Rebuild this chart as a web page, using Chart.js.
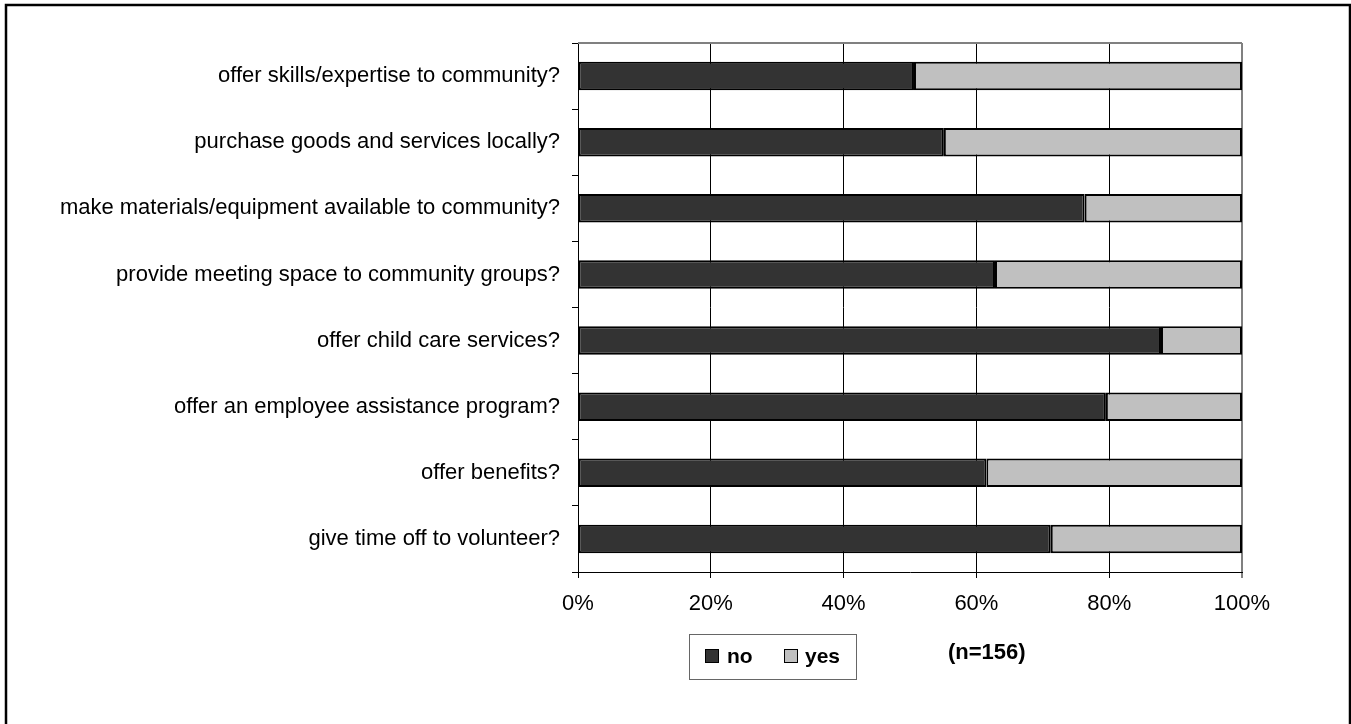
<!doctype html>
<html>
<head>
<title>Community support practices</title>
	<script src="https://cdn.jsdelivr.net/npm/chart.js@4/dist/chart.umd.min.js"></script>
	<style>
		body { margin: 0; background: #fff; }
		#wrap { width: 1351px; height: 724px; }
	</style>
</head>
<body>
	<div id="wrap">
		<canvas id="canvas"></canvas>
	</div>
	<script>
		var categories = [
			'offer skills/expertise to community?',
			'purchase goods and services locally?',
			'make materials/equipment available to community?',
			'provide meeting space to community groups?',
			'offer child care services?',
			'offer an employee assistance program?',
			'offer benefits?',
			'give time off to volunteer?'
		];
		var noValues = [50.6, 55.1, 76.3, 62.8, 87.8, 79.5, 61.5, 71.2];
		var yesValues = [49.4, 44.9, 23.7, 37.2, 12.2, 20.5, 38.5, 28.8];
		var sampleNote = '(n=156)';

		var FONT = "'Liberation Sans', Arial, sans-serif";

		// white page, outer frame, top/right plot border, legend box and note
		var decor = {
			id: 'decor',
			beforeDraw: function(chart) {
				var ctx = chart.ctx;
				ctx.save();
				ctx.fillStyle = '#fff';
				ctx.fillRect(0, 0, chart.width, chart.height);
				ctx.restore();
			},
			beforeDatasetsDraw: function(chart) {
				var ctx = chart.ctx, a = chart.chartArea;
				ctx.save();
				ctx.strokeStyle = '#808080';
				ctx.lineWidth = 2;
				ctx.beginPath();
				ctx.moveTo(a.left, a.top);
				ctx.lineTo(a.right, a.top);
				ctx.stroke();
				ctx.restore();
			},
			afterDraw: function(chart) {
				var ctx = chart.ctx;
				ctx.save();
				ctx.strokeStyle = '#000';
				ctx.lineWidth = 2.5;
				ctx.strokeRect(6, 5, 1344, 740);

				// legend box
				ctx.strokeStyle = '#666';
				ctx.lineWidth = 1;
				ctx.strokeRect(689.5, 634.5, 167, 45);
				var ds = chart.data.datasets;
				var items = [{ sq: 705, tx: 727 }, { sq: 784, tx: 805 }];
				ctx.font = 'bold 21px ' + FONT;
				ctx.textBaseline = 'middle';
				ctx.textAlign = 'left';
				items.forEach(function(it, i) {
					ctx.fillStyle = ds[i].backgroundColor;
					ctx.fillRect(it.sq, 649, 14, 14);
					ctx.strokeStyle = '#000';
					ctx.strokeRect(it.sq + 0.5, 649.5, 13, 13);
					ctx.fillStyle = '#000';
					ctx.fillText(ds[i].label, it.tx, 657);
				});
				ctx.font = 'bold 22px ' + FONT;
				ctx.fillText(sampleNote, 948, 653);
				ctx.restore();
			}
		};

		var config = {
			type: 'bar',
			data: {
				labels: categories,
				datasets: [{
					label: 'no',
					data: noValues,
					backgroundColor: '#333333',
					borderColor: '#000',
					borderWidth: 2,
					borderSkipped: false,
					barPercentage: 0.43,
					categoryPercentage: 1
				}, {
					label: 'yes',
					data: yesValues,
					backgroundColor: '#c0c0c0',
					borderColor: '#000',
					borderWidth: 2,
					borderSkipped: false,
					barPercentage: 0.43,
					categoryPercentage: 1
				}]
			},
			options: {
				indexAxis: 'y',
				responsive: true,
				maintainAspectRatio: false,
				animation: false,
				layout: {
					padding: { left: 0, top: 43, right: 109, bottom: 0 }
				},
				plugins: {
					legend: { display: false },
					tooltip: { enabled: false }
				},
				scales: {
					x: {
						stacked: true,
						min: 0,
						max: 100,
						ticks: {
							stepSize: 20,
							padding: 13,
							color: '#000',
							font: { family: FONT, size: 22 },
							callback: function(v) { return v + '%'; }
						},
						grid: {
							tickLength: 6,
							color: function(c) {
								return c.tick && c.tick.value === 100 ? '#808080' : '#000';
							},
							lineWidth: function(c) {
								return c.tick && c.tick.value === 100 ? 2 : 1;
							}
						},
						border: { display: true, color: '#000', width: 1 },
						afterFit: function(scale) { scale.height = 152; }
					},
					y: {
						stacked: true,
						ticks: {
							padding: 12,
							color: '#000',
							font: { family: FONT, size: 22 }
						},
						grid: {
							offset: true,
							drawOnChartArea: false,
							tickLength: 6,
							color: '#000'
						},
						border: { display: true, color: '#000', width: 1 },
						afterFit: function(scale) { scale.width = 578; }
					}
				}
			},
			plugins: [decor]
		};

		window.onload = function() {
			var ctx = document.getElementById('canvas').getContext('2d');
			window.myBar = new Chart(ctx, config);
		};
	</script>
</body>
</html>
